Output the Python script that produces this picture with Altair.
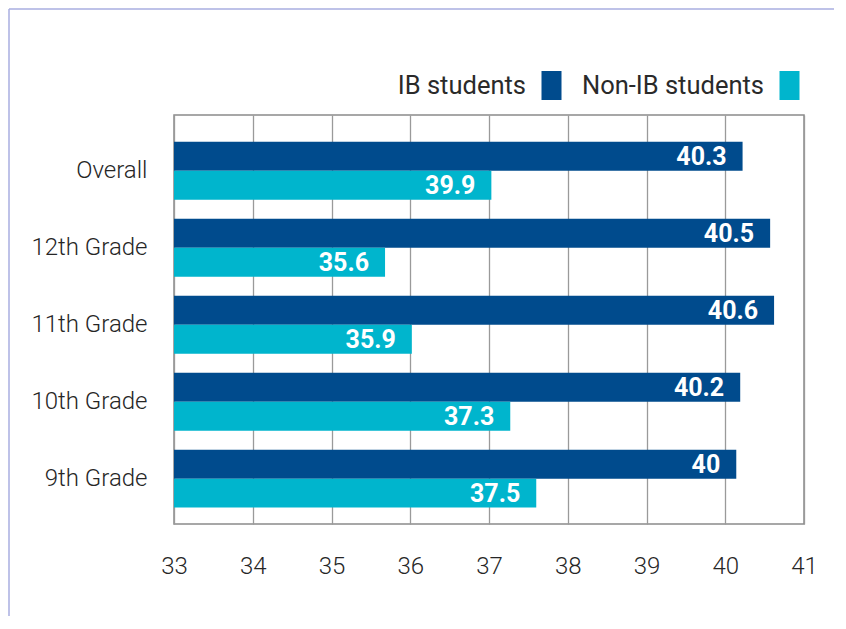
import altair as alt
import pandas as pd

categories = ["Overall", "12th Grade", "11th Grade", "10th Grade", "9th Grade"]
groups = ["IB students", "Non-IB students"]
ib_values = [40.22, 40.57, 40.62, 40.19, 40.14]
non_ib_values = [37.03, 35.68, 36.02, 37.27, 37.6]
ib_labels = ["40.3", "40.5", "40.6", "40.2", "40"]
non_ib_labels = ["39.9", "35.6", "35.9", "37.3", "37.5"]
x_ticks = [33, 34, 35, 36, 37, 38, 39, 40, 41]
colors = ["#004b8d", "#00b5cd"]

rows = []
for c, v, l in zip(categories, ib_values, ib_labels):
    rows.append({"category": c, "group": groups[0], "value": v, "label": l})
for c, v, l in zip(categories, non_ib_values, non_ib_labels):
    rows.append({"category": c, "group": groups[1], "value": v, "label": l})
df = pd.DataFrame(rows)

FONT = "Roboto"

y_enc = alt.Y(
    "category:N", sort=categories, title=None,
    scale=alt.Scale(paddingInner=0.247, paddingOuter=0.28, align=0.62),
    axis=alt.Axis(labelFont=FONT, labelFontSize=24, labelFontWeight=300,
                  labelColor="#262626", ticks=False, domain=False,
                  labelPadding=27, grid=False),
)
yoff_enc = alt.YOffset("group:N", sort=groups,
                       scale=alt.Scale(paddingInner=0, paddingOuter=0))
x_enc = alt.X(
    "value:Q", title=None,
    scale=alt.Scale(domain=[33, 41], nice=False, zero=False),
    axis=alt.Axis(values=x_ticks, format="d", labelFont=FONT, labelFontSize=24,
                  labelFontWeight=300, labelColor="#262626", ticks=False,
                  domain=False, labelPadding=30, grid=True, gridColor="#9a9a9a",
                  gridWidth=1.3, labelFlush=False),
)

base = alt.Chart(df)

bars = base.mark_bar().encode(
    x=x_enc,
    x2=alt.datum(33),
    y=y_enc,
    yOffset=yoff_enc,
    color=alt.Color(
        "group:N", sort=groups,
        scale=alt.Scale(domain=groups, range=colors),
        legend=alt.Legend(
            title=None, orient="none", legendX=363, legendY=-44,
            direction="horizontal",
            symbolType="M-0.69,-1H0.69V1H-0.69Z", symbolSize=841,
            symbolStrokeWidth=0, symbolOpacity=1,
            labelAlign="right", labelOffset={"expr": "-40"},
            labelFont=FONT, labelFontSize=25.5, labelColor="#2a2a2a",
            columnPadding=19, padding=0, labelLimit=0,
        ),
    ),
)

labels = base.mark_text(
    align="right", baseline="middle", dx=-16, dy=1, color="white",
    fontWeight="bold", font=FONT, fontSize=25,
).encode(
    x=alt.X("value:Q"),
    y=alt.Y("category:N", sort=categories),
    yOffset=alt.YOffset("group:N", sort=groups),
    text="label:N",
)

frame_data = alt.Data(values=[{"k": 1}])
left_line = alt.Chart(frame_data).mark_rule(color="#a9aee0", strokeWidth=1.5).encode(
    x=alt.value(-165), y=alt.value(-106), y2=alt.value(501)
)
top_line = alt.Chart(frame_data).mark_rule(color="#a9aee0", strokeWidth=1.5).encode(
    x=alt.value(-165), x2=alt.value(660), y=alt.value(-106)
)

chart = alt.layer(bars, labels, left_line, top_line).properties(
    width=630, height=409, padding=0, background="white"
).configure_view(stroke="#8a8a8a", strokeWidth=1.5)

chart.save("out.html", embed_options={"renderer": "svg", "actions": False})
